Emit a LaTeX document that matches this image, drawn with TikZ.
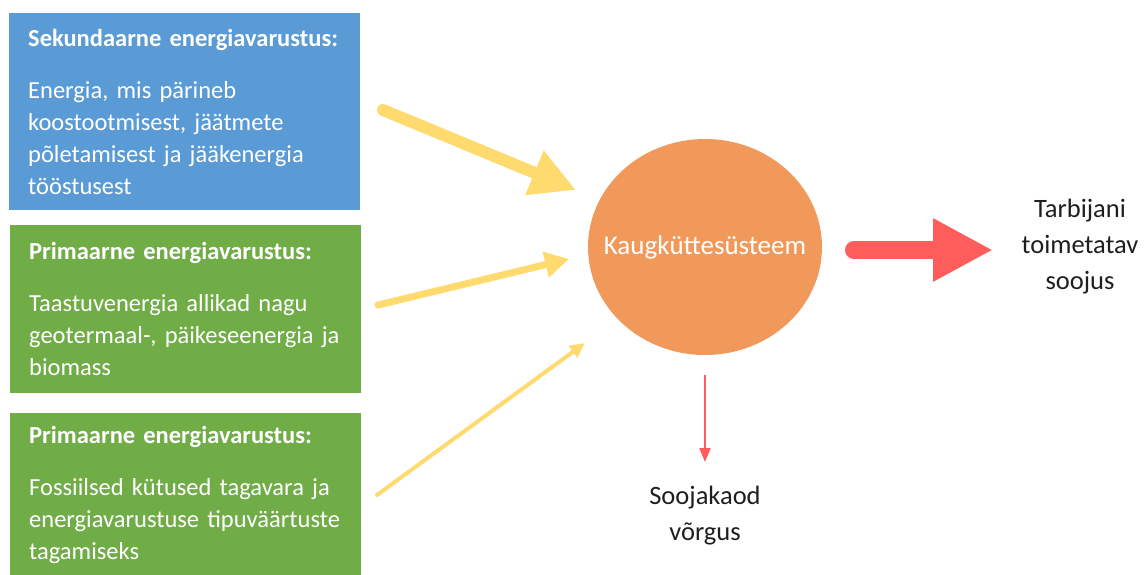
\documentclass[tikz,border=0pt]{standalone}
\usepackage{fontspec}
\setmainfont{Carlito}
\usetikzlibrary{arrows.meta,shapes.geometric}

\definecolor{supblue}{HTML}{5B9BD5}
\definecolor{supgreen}{HTML}{70AD47}
\definecolor{heatorange}{HTML}{F1995B}
\definecolor{feedyellow}{HTML}{FFDA6E}
\definecolor{lossred}{HTML}{FF5C5C}
\definecolor{labelgray}{HTML}{1E1E1E}

\begin{document}
\begin{tikzpicture}[x=1pt, y=-1pt,
    srcbox/.style={rectangle, anchor=north west, text=white, align=left,
      inner xsep=19pt, inner ysep=0pt, text width=313pt, minimum width=351pt,
      font=\fontsize{24.5}{32}\selectfont},
    feed/.style={draw=feedyellow, line cap=round},
    outlabel/.style={align=center, text=labelgray,
      font=\fontsize{26.5}{36}\selectfont}]

    \useasboundingbox (0,0) rectangle (1144,574);

    % ====== SUPPLY BOXES ======
    \node[srcbox, fill=supblue, minimum height=197pt] (sec) at (9,13)
      {\textbf{Sekundaarne energiavarustus:}\\[20pt]
       Energia, mis pärineb\\
       koostootmisest, jäätmete\\
       põletamisest ja jääkenergia\\
       tööstusest};
    \node[srcbox, fill=supgreen, minimum height=168pt] (ren) at (10,225)
      {\textbf{Primaarne energiavarustus:}\\[20pt]
       Taastuvenergia allikad nagu\\
       geotermaal-, päikeseenergia ja\\
       biomass};
    \node[srcbox, fill=supgreen, minimum height=164pt] (fos) at (10,413)
      {\textbf{Primaarne energiavarustus:}\\[20pt]
       Fossiilsed kütused tagavara ja\\
       energiavarustuse tipuväärtuste\\
       tagamiseks};

    % ====== DISTRICT HEATING ======
    \node[ellipse, fill=heatorange, inner sep=0pt,
      minimum width=234pt, minimum height=216pt,
      label={[text=white, font=\fontsize{27}{32}\selectfont]center:Kaugküttesüsteem}]
      (heat) at (705,247) {};

    % ====== OUTPUT LABELS ======
    \node[outlabel] (use) at (1080,247) {Tarbijani\\toimetatav\\soojus};
    \node[outlabel] (loss) at (705,516) {Soojakaod\\võrgus};

    % Arrow end points
    \coordinate (sec-out) at (383,110);
    \coordinate (sec-in) at (576,190);
    \coordinate (ren-out) at (378,305);
    \coordinate (ren-in) at (569,259);
    \coordinate (fos-out) at (377,495);
    \coordinate (fos-in) at (585,343);
    \coordinate (use-out) at (854,250);
    \coordinate (use-in) at (993,250);
    \coordinate (loss-out) at (705,375);
    \coordinate (loss-in) at (705,462);

    % Yellow supply arrows
    \draw[feed, line width=12pt, -{Triangle[length=45pt, width=45pt]}]
      (sec-out) -- (sec-in);
    \draw[feed, line width=7pt, -{Triangle[length=24pt, width=25pt]}]
      (ren-out) -- (ren-in);
    \draw[feed, line width=4pt, -{Triangle[length=15pt, width=14pt]}]
      (fos-out) -- (fos-in);

    % Red output arrows
    \draw[lossred, line width=18pt, line cap=round,
      -{Triangle[length=60pt, width=59pt]}] (use-out) -- (use-in);
    \draw[lossred, line width=2pt, -{Triangle[length=14pt, width=11pt]}]
      (loss-out) -- (loss-in);

  \end{tikzpicture}
\end{document}
